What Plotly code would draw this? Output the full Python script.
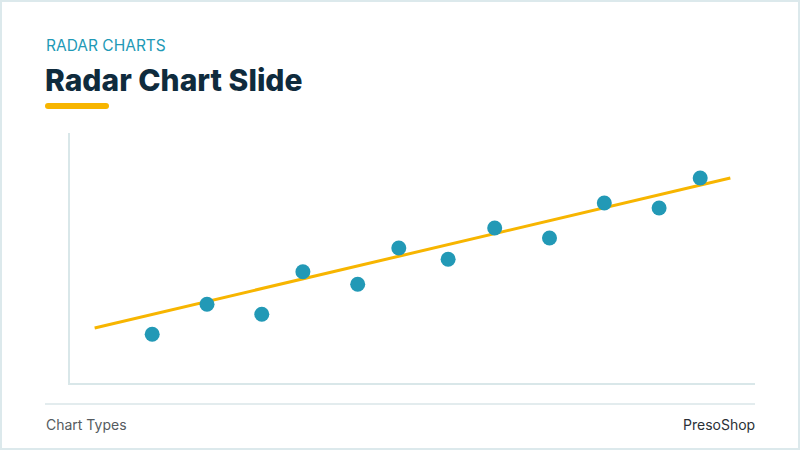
import plotly.graph_objects as go

# scatter data
x_vals = [1.5, 2.5, 3.5, 4.25, 5.25, 6.0, 6.9, 7.75, 8.75, 9.75, 10.75, 11.5]
y_vals = [1.95, 3.15, 2.75, 4.45, 3.95, 5.4, 4.95, 6.2, 5.8, 7.2, 7.0, 8.2]

# trend line end points
trend_x = [0.45, 12.05]
trend_y = [2.2, 8.2]

TEAL = '#2299b6'
YELLOW = '#f7b500'
NAVY = '#0f2b3d'
AXIS = '#d9e7e9'

# plot area in pixels: x 70..755, y 133..383
W, H = 685, 250


def px(x):
    return (x - 70) / W


def py(y):
    return (383 - y) / H


fig = go.Figure()
fig.add_trace(go.Scatter(x=trend_x, y=trend_y, mode='lines',
                         line=dict(color=YELLOW, width=3)))
fig.add_trace(go.Scatter(x=x_vals, y=y_vals, mode='markers',
                         marker=dict(color=TEAL, size=15)))

fig.update_layout(
    width=800, height=450, autosize=False,
    margin=dict(l=70, r=45, t=133, b=67),
    paper_bgcolor='white', plot_bgcolor='white',
    showlegend=False,
    font=dict(family='Inter, Noto Sans, sans-serif'),
)
fig.update_xaxes(range=[0, 12.5], showgrid=False, zeroline=False, showticklabels=False,
                 showline=True, linecolor=AXIS, linewidth=2)
fig.update_yaxes(range=[0, 10], showgrid=False, zeroline=False, showticklabels=False,
                 showline=True, linecolor=AXIS, linewidth=2)

# slide frame, title underline and footer rule
fig.add_shape(type='rect', xref='paper', yref='paper', x0=px(0), x1=px(800),
              y0=py(450), y1=py(0), line=dict(color='#dce9ec', width=4), layer='above')
fig.add_shape(type='line', xref='paper', yref='paper', x0=px(48), x1=px(106),
              y0=py(106), y1=py(106), line=dict(color=YELLOW, width=6))
fig.add_shape(type='circle', xref='paper', yref='paper', x0=px(45), x1=px(51),
              y0=py(109), y1=py(103), fillcolor=YELLOW, line_width=0)
fig.add_shape(type='circle', xref='paper', yref='paper', x0=px(103), x1=px(109),
              y0=py(109), y1=py(103), fillcolor=YELLOW, line_width=0)
fig.add_shape(type='line', xref='paper', yref='paper', x0=px(45), x1=px(755),
              y0=py(404), y1=py(404), line=dict(color='#e3ecee', width=2))

fig.add_annotation(text='RADAR CHARTS', xref='paper', yref='paper', x=px(44), y=py(46),
                   xanchor='left', yanchor='middle', showarrow=False,
                   font=dict(size=15.5, color=TEAL, family='Inter'))
fig.add_annotation(text='Radar Chart Slide', xref='paper', yref='paper', x=px(43), y=py(80),
                   xanchor='left', yanchor='middle', showarrow=False,
                   font=dict(size=30, color=NAVY, family='Inter', weight=800))
fig.add_annotation(text='Chart Types', xref='paper', yref='paper', x=px(44), y=py(424),
                   xanchor='left', yanchor='middle', showarrow=False,
                   font=dict(size=14, color='#555b60', family='Inter'))
fig.add_annotation(text='PresoShop', xref='paper', yref='paper', x=px(757), y=py(424),
                   xanchor='right', yanchor='middle', showarrow=False,
                   font=dict(size=14, color='#2a3036', family='Inter'))

fig.write_html('out.html', config={'displayModeBar': False},
               post_script="document.body.style.margin='0';")
